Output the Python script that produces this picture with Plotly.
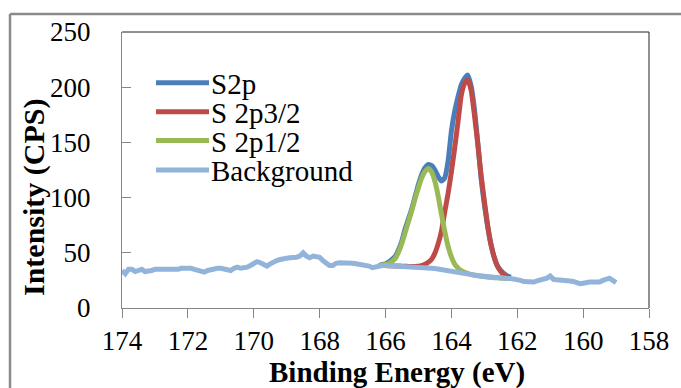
import numpy as np
import plotly.graph_objects as go

# ---- S 2p XPS scan, binding energy grid (eV), 0.1 eV step, high -> low ----
energy_all = np.round(np.arange(174.0, 158.95, -0.1), 1)      # full scan window
energy_peak = np.round(np.arange(166.2, 162.15, -0.1), 1)     # fitted region

# Background trace, 174.0 -> 166.3 (raw, outside the fit window)
bg_high = [
    34, 31, 35, 35, 33, 34, 35, 33, 33, 34,
    35, 35, 35, 34, 34, 34, 35, 35, 36, 36,
    37, 36, 35, 34, 33, 32.5, 34, 35, 35, 36,
    36, 35, 35, 34, 36, 37, 36, 36, 37, 38.5,
    40, 42, 41, 39, 38, 40, 42, 43, 44, 44,
    45, 45.5, 45.5, 46, 47, 50, 47, 45.5, 47, 47,
    46, 43, 40, 38.5, 38.5, 40.5, 41, 41, 41.5, 41,
    40.5, 40, 39.5, 39.5, 39, 38, 36.5, 37.5,
]
# Shirley background under the peaks, 166.2 -> 162.2
bg_shirley = [
    38.5, 38.5, 38.4, 38.3, 38.2, 38.1, 38.0, 37.9, 37.8, 37.6,
    37.5, 37.3, 37.1, 36.9, 36.7, 36.4, 36.1, 35.7, 35.3, 34.8,
    34.3, 33.8, 33.3, 32.8, 32.3, 31.8, 31.3, 30.8, 30.3, 29.8,
    29.3, 28.9, 28.5, 28.1, 27.8, 27.5, 27.3, 27.1, 26.9, 26.8,
    26.7,
]
# Background trace, 162.1 -> 159.0
bg_low = [
    26.5, 26, 25, 24, 24, 23, 23.5, 24.5, 25, 25.5,
    27, 29, 26, 25.5, 25.5, 25, 25, 24.5, 24, 23,
    22, 22.5, 23.5, 23.5, 23.5, 23, 23.5, 25, 26, 27,
    25, 23,
]

# Measured S2p envelope, 166.2 -> 162.2
s2p = [
    38.5, 39.5, 40, 41.5, 44, 47, 53, 61, 72, 81,
    90, 101, 112, 121, 127, 130, 129, 125, 119, 115,
    118, 133, 160, 178, 191, 202, 208, 211, 201, 180,
    150, 118, 94, 74, 58, 46, 38, 34, 31, 29,
    28,
]
# Fitted components (height above the Shirley background), 166.2 -> 162.2
s2p32_fit = [
    0, 0, 0, 0, 0, 0, 0, 0, 0, 0,
    0.1, 0.3, 0.7, 1.5, 3, 5, 8, 14, 23, 35,
    53, 70, 90, 112, 136, 161, 172, 176, 167, 145,
    120, 92, 68.5, 47, 30, 18.5, 10.7, 6, 3, 1.5,
    0.7,
]
s2p12_fit = [
    0, 0.5, 1, 2, 4, 7, 13, 21, 31, 41,
    51, 62, 72, 81, 87, 90, 87, 79, 66, 50,
    35, 22, 13, 7, 4, 2, 1, 0.5, 0, 0,
    0, 0, 0, 0, 0, 0, 0, 0, 0, 0,
    0,
]

x_ticks = [174, 172, 170, 168, 166, 164, 162, 160, 158]
y_ticks = [0, 50, 100, 150, 200, 250]

series_names = ["S2p", "S 2p3/2", "S 2p1/2", "Background"]
series_colors = ["#4A7EBB", "#BE4B48", "#98B954", "#93B4DA"]

background = np.array(bg_high + bg_shirley + bg_low)
shirley = np.array(bg_shirley)
comp32 = shirley + np.array(s2p32_fit)
comp12 = shirley + np.array(s2p12_fit)

LW = 5
fig = go.Figure()
fig.add_trace(go.Scatter(x=energy_peak, y=s2p, mode="lines", name=series_names[0],
                         line=dict(color=series_colors[0], width=LW, shape="spline", smoothing=0.5)))
fig.add_trace(go.Scatter(x=energy_peak, y=comp32, mode="lines", name=series_names[1],
                         line=dict(color=series_colors[1], width=LW, shape="spline", smoothing=0.5)))
fig.add_trace(go.Scatter(x=energy_peak, y=comp12, mode="lines", name=series_names[2],
                         line=dict(color=series_colors[2], width=LW, shape="spline", smoothing=0.5)))
fig.add_trace(go.Scatter(x=energy_all, y=background, mode="lines", name=series_names[3],
                         line=dict(color=series_colors[3], width=LW)))

# plot-area geometry in pixels (for placing the hand-drawn legend and titles)
W, H = 681, 388
ML, MR, MT, MB = 122, 32, 32, 80
PW, PH = W - ML - MR, H - MT - MB


def px(x):
    return (x - ML) / PW


def py(y):
    return (H - MB - y) / PH


FONT = "Liberation Serif"
shapes = []
annotations = []

# outer chart border (top and left edges)
shapes.append(dict(type="line", xref="paper", yref="paper", x0=px(10), x1=px(10),
                   y0=py(400), y1=py(14), line=dict(color="#8a8a8a", width=2.5)))
shapes.append(dict(type="line", xref="paper", yref="paper", x0=px(10), x1=px(700),
                   y0=py(14), y1=py(14), line=dict(color="#8a8a8a", width=2.5)))
# plot-area frame, top and right
shapes.append(dict(type="line", xref="paper", yref="paper", x0=0, x1=1, y0=1, y1=1,
                   line=dict(color="#222222", width=1)))
shapes.append(dict(type="line", xref="paper", yref="paper", x0=1, x1=1, y0=0, y1=1,
                   line=dict(color="#222222", width=1)))

# legend
legend_rows = [82.7, 111.7, 140.5, 170]
for name, color, ry in zip(series_names, series_colors, legend_rows):
    shapes.append(dict(type="line", xref="paper", yref="paper", x0=px(156), x1=px(209),
                       y0=py(ry), y1=py(ry), line=dict(color=color, width=LW)))
    annotations.append(dict(text=name, xref="paper", yref="paper", x=px(209), y=py(ry + 1),
                            xanchor="left", yanchor="middle", showarrow=False,
                            font=dict(family=FONT, size=29, color="black")))

# axis titles
annotations.append(dict(text="<b>Binding Energy (eV)</b>", xref="paper", yref="paper",
                        x=px(397), y=py(372), xanchor="center", yanchor="middle",
                        showarrow=False, font=dict(family=FONT, size=29, color="black")))
annotations.append(dict(text="<b>Intensity (CPS)</b>", xref="paper", yref="paper",
                        x=px(34), y=py(197), xanchor="center", yanchor="middle", textangle=-90,
                        showarrow=False, font=dict(family=FONT, size=30, color="black")))

fig.update_layout(
    width=W, height=H,
    margin=dict(l=ML, r=MR, t=MT, b=MB, pad=0),
    paper_bgcolor="white", plot_bgcolor="white",
    showlegend=False,
    font=dict(family=FONT, size=27, color="black"),
    xaxis=dict(range=[174, 158], tickmode="array", tickvals=x_ticks,
               ticktext=[str(v) for v in x_ticks],
               ticks="outside", ticklen=9, tickwidth=1, tickcolor="#868686",
               showline=True, linecolor="#868686", linewidth=1,
               showgrid=False, zeroline=False,
               tickfont=dict(family=FONT, size=27, color="black")),
    yaxis=dict(range=[0, 250], tickmode="array", tickvals=y_ticks,
               ticktext=[str(v) for v in y_ticks],
               ticks="inside", ticklen=9, tickwidth=1, tickcolor="#868686",
               showline=True, linecolor="#868686", linewidth=1,
               showgrid=False, zeroline=False, ticklabelstandoff=25,
               tickfont=dict(family=FONT, size=27, color="black")),
    shapes=shapes,
    annotations=annotations,
)

fig.write_html("out.html")
